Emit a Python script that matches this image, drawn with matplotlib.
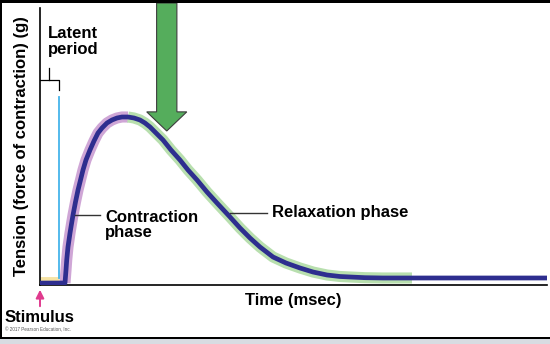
import matplotlib
matplotlib.use('Agg')
import matplotlib.pyplot as plt
from matplotlib.patches import Rectangle, FancyArrow

plt.rcParams['font.family'] = ['Liberation Sans', 'DejaVu Sans']
plt.rcParams['font.weight'] = 'bold'

# muscle twitch trace (time in arbitrary msec units, tension in % of axis)
time = [0.0, 4.93, 5.13, 5.27, 5.52, 5.92, 6.21, 6.51, 7.00, 7.50, 7.99,
        8.48, 9.07, 9.86, 10.65, 11.44, 12.23, 13.21, 14.20, 15.19, 16.17,
        17.36, 18.54, 19.72, 20.71, 21.70, 22.88, 24.26, 25.84, 27.61, 29.19,
        30.97, 32.94, 34.91, 37.48, 39.45, 41.42, 43.39, 45.96, 48.52, 51.28,
        53.85, 56.61, 59.17, 61.14, 64.10, 67.65, 73.37, 99.61]
tension = [0.7, 0.72, 5.42, 9.03, 13.72, 18.77, 22.02, 25.27, 29.96, 34.30, 37.91,
           41.52, 45.13, 48.74, 51.99, 54.87, 56.68, 58.48, 59.57, 60.29, 60.65,
           60.65, 60.29, 59.57, 58.48, 57.04, 54.87, 52.35, 48.74, 45.13, 41.52,
           37.91, 33.57, 29.60, 24.55, 20.58, 16.97, 13.72, 10.11, 7.94, 6.14,
           4.69, 3.61, 3.07, 2.89, 2.64, 2.53, 2.53, 2.53]
peak = 21       # index of the peak
relax_end = 47  # end of the green relaxation highlight

latent_time = [0, 3.75]
latent_level = [2.2, 2.2]

fig = plt.figure(figsize=(5.5, 3.44), dpi=100)
ax = fig.add_axes([40/550, 59/344, 507/550, 277/344])
ax.set_xlim(0, 100)
ax.set_ylim(0, 100)

# phase highlights
ax.plot(latent_time, latent_level, color='#f6e3a4', lw=3.5, solid_capstyle='butt', zorder=1)
ax.plot(time[1:peak+1], tension[1:peak+1], color='#cfa6d6', lw=8,
        solid_capstyle='butt', solid_joinstyle='round', zorder=1)
ax.plot(time[peak:relax_end+1], tension[peak:relax_end+1], color='#b8dfae', lw=8,
        solid_capstyle='butt', solid_joinstyle='round', zorder=1)
ax.plot(time, tension, color='#2e2e8f', lw=3.4, solid_joinstyle='round', zorder=3)

# stimulus marker line (light blue)
ax.plot([3.75, 3.75], [2.5, 67.9], color='#45b4ea', lw=1.3, zorder=2)

# latent period bracket
ax.plot([0, 3.75, 3.75], [74.0, 74.0, 70.4], color='black', lw=0.9, zorder=2)
ax.plot([1.8, 1.8], [74.0, 78.3], color='black', lw=0.9, zorder=2)
ax.text(1.6, 93.5, 'Latent\nperiod', fontsize=12, fontweight='bold',
        va='top', ha='left', linespacing=1.05)

# labels with leader lines
ax.plot([6.9, 11.8], [25.3, 25.3], color='#333333', lw=1.0, zorder=4)
ax.text(12.8, 21.6, 'Contraction\nphase', fontsize=12, fontweight='bold',
        va='center', ha='left', linespacing=1.05)
ax.plot([37.5, 44.8], [26.0, 26.0], color='#333333', lw=1.0, zorder=4)
ax.text(45.8, 26.0, 'Relaxation phase', fontsize=12, fontweight='bold',
        va='center', ha='left')

# big green arrow
arrow = FancyArrow(25.0, 101.8, 0, -46.2, width=4.0, head_width=7.9,
                   head_length=6.9, length_includes_head=True,
                   facecolor='#55ad5c', edgecolor='#3d3d3d', lw=0.8,
                   clip_on=False, zorder=5)
ax.add_patch(arrow)

for side in ['top', 'right']:
    ax.spines[side].set_visible(False)
for side in ['left', 'bottom']:
    ax.spines[side].set_linewidth(1.2)
    ax.spines[side].set_color('black')
ax.set_xticks([])
ax.set_yticks([])
ax.set_xlabel('Time (msec)', fontsize=12, fontweight='bold', labelpad=6)
ax.set_ylabel('Tension (force of contraction) (g)', fontsize=12,
              fontweight='bold', labelpad=8)

# stimulus arrow and caption
ax.annotate('', xy=(40, 57), xycoords='figure pixels', xytext=(40, 35),
            textcoords='figure pixels',
            arrowprops=dict(arrowstyle='-|>', color='#e03a8e', lw=1.4,
                            mutation_scale=12))
fig.text(5/550, 26/344, 'Stimulus', fontsize=12, fontweight='bold',
         va='center', ha='left')
fig.text(5/550, 14/344, '\u00a9 2017 Pearson Education, Inc.', fontsize=3.3,
         fontweight='normal', color='#555555', va='center', ha='left')

# outer frame and grey strip
fig.patches.append(Rectangle((0, 0), 1, 5/344, transform=fig.transFigure,
                             facecolor='#d8dce2', edgecolor='none', zorder=0))
fig.patches.append(Rectangle((0, 5/344), 1, 2/344, transform=fig.transFigure,
                             facecolor='black', edgecolor='none'))
fig.patches.append(Rectangle((0, 341/344), 1, 3/344, transform=fig.transFigure,
                             facecolor='black', edgecolor='none'))
fig.patches.append(Rectangle((0, 5/344), 2/550, 339/344, transform=fig.transFigure,
                             facecolor='black', edgecolor='none'))

fig.savefig('out.png', dpi=100)
